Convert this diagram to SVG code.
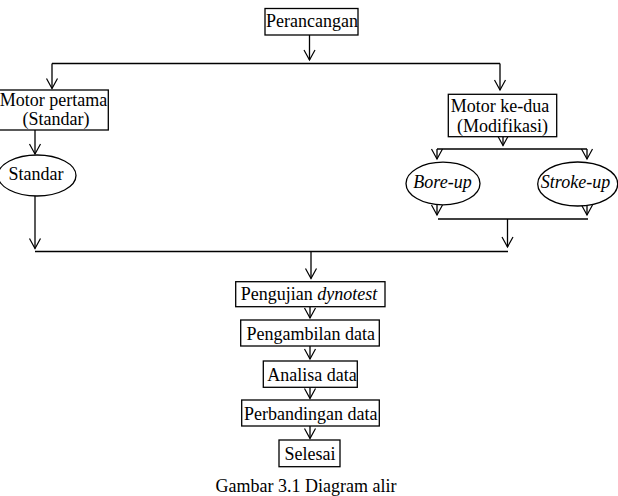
<svg xmlns="http://www.w3.org/2000/svg" width="618" height="496" viewBox="0 0 618 496">
<defs>
<style>
.box{fill:#fff;stroke:#000;stroke-width:1.3}
.t{font-family:"Liberation Serif","Times New Roman",serif;font-size:18px;fill:#000;text-anchor:middle}
.i{font-style:italic}
.c line,.c path{stroke:#000;stroke-width:1.3;fill:none}
</style>
<marker id="ah" viewBox="-11 -6 12 12" refX="0" refY="0" markerWidth="12" markerHeight="12" markerUnits="userSpaceOnUse" orient="auto" overflow="visible">
<path d="M-10,-5.5 L0,0 L-10,5.5" fill="none" stroke="#000" stroke-width="1.2"/>
</marker>
</defs>
<rect width="618" height="496" fill="#fff"/>
<g id="connectors" class="c">
<line x1="309.5" y1="35" x2="309.5" y2="60" marker-end="url(#ah)"/>
<line x1="52" y1="63.5" x2="500" y2="63.5"/>
<line x1="52" y1="63.5" x2="52" y2="88.5" marker-end="url(#ah)"/>
<line x1="500" y1="63.5" x2="500" y2="90" marker-end="url(#ah)"/>
<line x1="35" y1="130" x2="35" y2="154" marker-end="url(#ah)"/>
<line x1="35" y1="196" x2="35" y2="248.5" marker-end="url(#ah)"/>
<line x1="35" y1="251.5" x2="508" y2="251.5"/>
<line x1="503" y1="136.7" x2="503" y2="145.5" marker-end="url(#ah)"/>
<line x1="437" y1="149" x2="587" y2="149"/>
<line x1="437" y1="149" x2="437" y2="159" marker-end="url(#ah)"/>
<line x1="587" y1="149" x2="587" y2="159" marker-end="url(#ah)"/>
<line x1="437" y1="205" x2="437" y2="215" marker-end="url(#ah)"/>
<line x1="587" y1="205.5" x2="587" y2="215" marker-end="url(#ah)"/>
<line x1="438" y1="219" x2="588" y2="219"/>
<line x1="507.5" y1="219" x2="507.5" y2="247" marker-end="url(#ah)"/>
<line x1="311" y1="251.5" x2="311" y2="278.5" marker-end="url(#ah)"/>
<line x1="310" y1="306.7" x2="310" y2="318" marker-end="url(#ah)"/>
<line x1="310" y1="346" x2="310" y2="359" marker-end="url(#ah)"/>
<line x1="310" y1="387.3" x2="310" y2="398.5" marker-end="url(#ah)"/>
<line x1="310" y1="426" x2="310" y2="438.5" marker-end="url(#ah)"/>
</g>
<g id="perancangan">
<rect class="box" x="265" y="8.5" width="93" height="26.5"/>
<text class="t" x="312" y="27">Perancangan</text>
</g>
<g id="motor-pertama">
<rect class="box" x="-1" y="90" width="109.3" height="40"/>
<text class="t" x="53.5" y="105.5">Motor pertama</text>
<text class="t" x="56" y="125">(Standar)</text>
</g>
<g id="motor-kedua">
<rect class="box" x="448.3" y="94.3" width="108.4" height="42.4"/>
<text class="t" x="500" y="111.7">Motor ke-dua</text>
<text class="t" x="502.5" y="131.7">(Modifikasi)</text>
</g>
<g id="standar">
<ellipse class="box" cx="37" cy="175.5" rx="39" ry="20.5"/>
<text class="t" x="36" y="179.5">Standar</text>
</g>
<g id="bore-up">
<ellipse class="box" cx="443" cy="183.5" rx="37" ry="21.3"/>
<text class="t i" x="442.5" y="188">Bore-up</text>
</g>
<g id="stroke-up">
<ellipse class="box" cx="577.7" cy="184" rx="40" ry="22"/>
<text class="t i" x="575.5" y="188">Stroke-up</text>
</g>
<g id="pengujian">
<rect class="box" x="235.7" y="281.7" width="149.3" height="25"/>
<text class="t" x="309" y="300">Pengujian <tspan class="i">dynotest</tspan></text>
</g>
<g id="pengambilan">
<rect class="box" x="240.7" y="320" width="138.6" height="26"/>
<text class="t" x="310.8" y="339.5">Pengambilan data</text>
</g>
<g id="analisa">
<rect class="box" x="263.3" y="361" width="94" height="26.3"/>
<text class="t" x="312" y="380.5">Analisa data</text>
</g>
<g id="perbandingan">
<rect class="box" x="241.7" y="400" width="137.6" height="26"/>
<text class="t" x="310.8" y="419.5">Perbandingan data</text>
</g>
<g id="selesai">
<rect class="box" x="279" y="440" width="61" height="26.7"/>
<text class="t" x="310" y="459.5">Selesai</text>
</g>
<text class="t" x="306" y="491.5">Gambar 3.1 Diagram alir</text>
</svg>
